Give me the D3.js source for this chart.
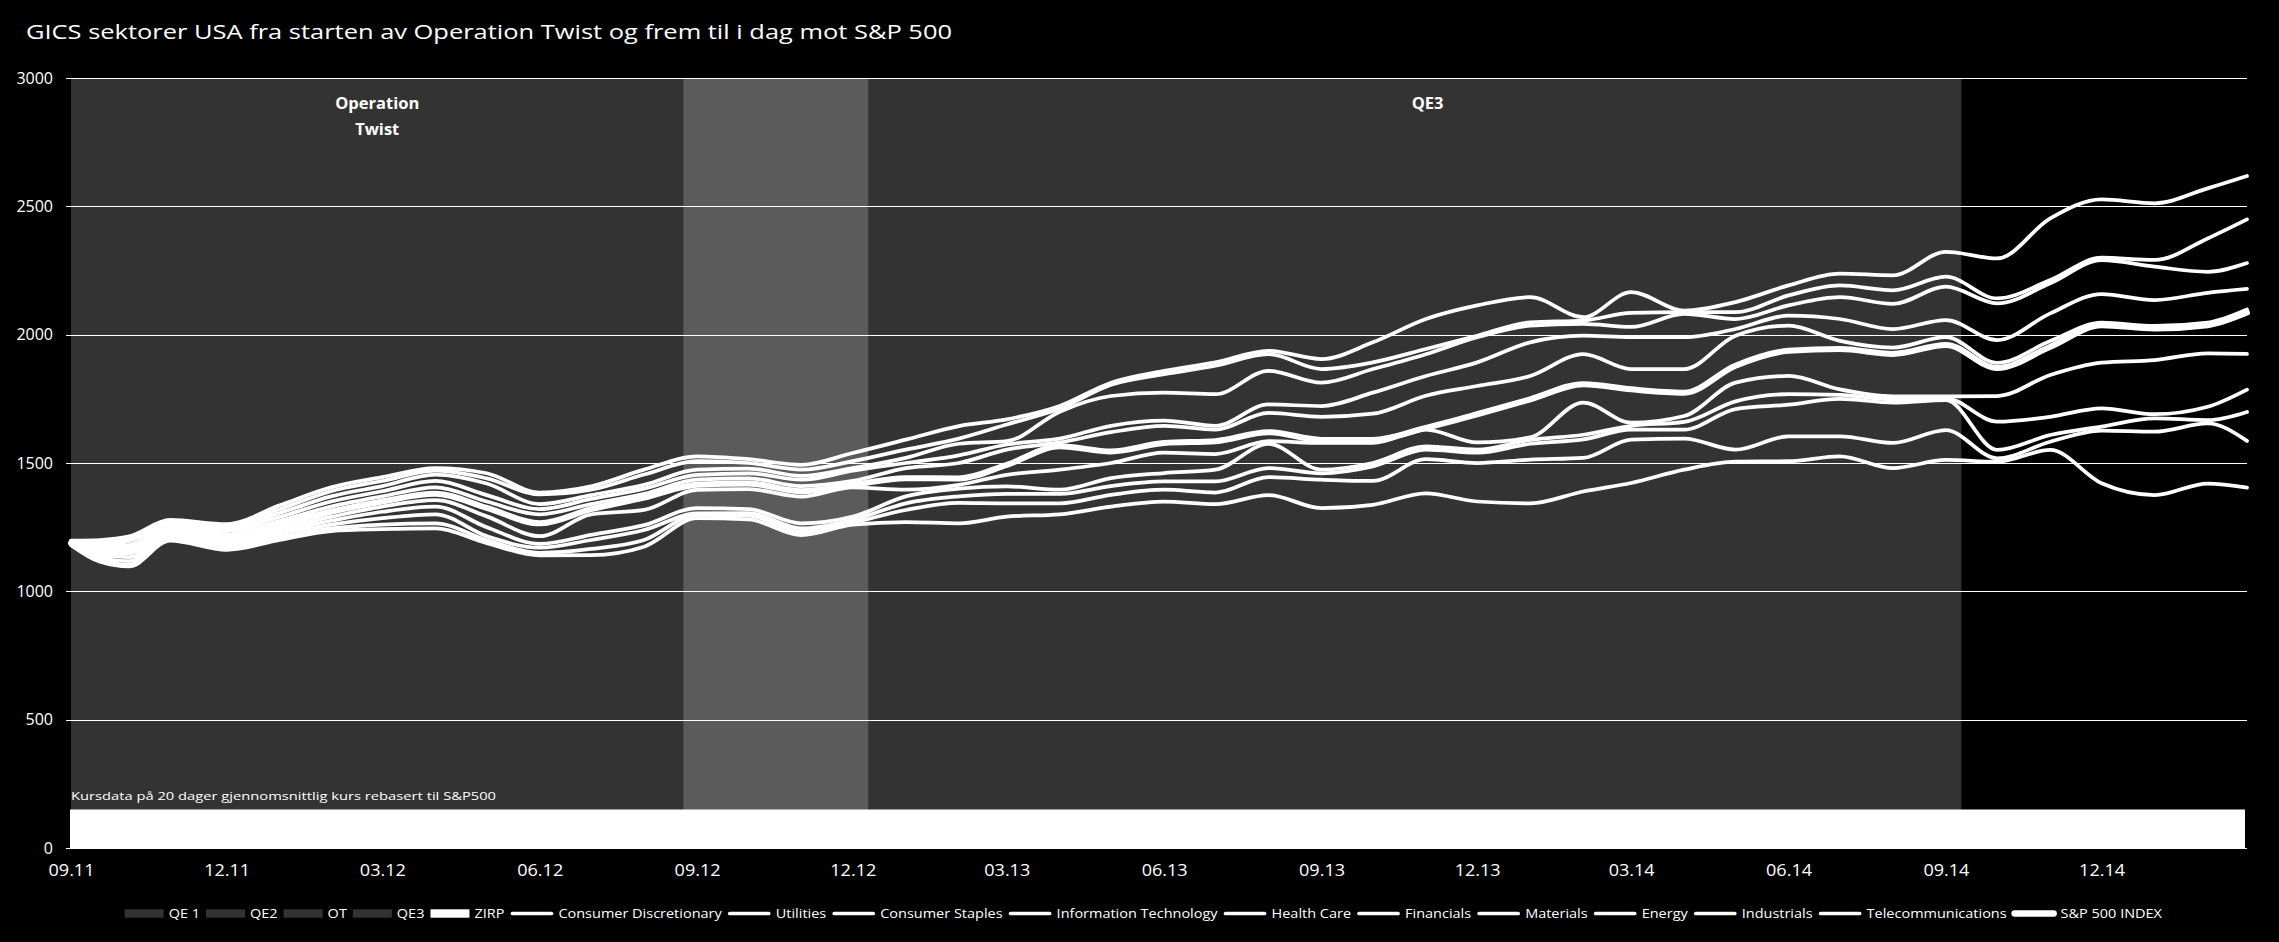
<!DOCTYPE html>
<html><head><meta charset="utf-8">
<script src="https://cdn.jsdelivr.net/npm/d3@7"></script>
<style>
html,body{margin:0;padding:0;background:#000;}
svg{display:block;}
text{font-family:"Open Sans","Noto Sans",sans-serif;fill:#fff;}
</style></head><body>
<svg id="chart" width="2279" height="942"></svg>
<script>
// ---------------- DATA ----------------
const titleText = "GICS sektorer USA fra starten av Operation Twist og frem til i dag mot S&P 500";
const noteText = "Kursdata på 20 dager gjennomsnittlig kurs rebasert til S&P500";

const dates = ["2011-09-01","2011-09-18","2011-10-05","2011-10-29","2011-12-01","2012-01-01","2012-01-31","2012-03-01","2012-04-01","2012-05-01","2012-06-01","2012-07-01","2012-08-01","2012-09-01","2012-10-01","2012-11-01","2012-12-01","2013-01-01","2013-02-01","2013-03-01","2013-04-01","2013-05-01","2013-06-01","2013-07-01","2013-08-01","2013-09-01","2013-10-01","2013-11-01","2013-12-01","2014-01-01","2014-02-01","2014-03-01","2014-04-01","2014-05-01","2014-06-01","2014-07-01","2014-08-01","2014-09-01","2014-10-01","2014-11-01","2014-12-01","2015-01-01","2015-02-01","2015-02-24"];

const healthCare            = [1198,1200,1214,1278,1262,1335,1405,1445,1480,1460,1385,1409,1474,1526,1515,1493,1539,1591,1644,1670,1722,1813,1859,1892,1937,1905,1970,2061,2114,2146,2068,2166,2094,2127,2192,2238,2231,2323,2297,2453,2527,2512,2570,2618];
const consumerDiscretionary = [1196,1190,1205,1270,1255,1320,1390,1430,1470,1440,1378,1396,1455,1507,1500,1474,1507,1552,1595,1650,1712,1805,1846,1879,1924,1866,1892,1944,1996,2048,2055,2085,2088,2088,2153,2192,2173,2226,2141,2213,2300,2291,2375,2449];
const informationTechnology = [1194,1180,1195,1262,1245,1305,1370,1410,1455,1420,1340,1375,1415,1474,1478,1450,1480,1520,1575,1585,1700,1761,1774,1768,1859,1813,1866,1924,1990,2035,2042,2030,2081,2061,2114,2146,2120,2187,2122,2200,2290,2265,2245,2279];
const financials            = [1192,1172,1180,1255,1235,1290,1350,1390,1430,1375,1320,1360,1400,1454,1460,1435,1470,1500,1530,1572,1595,1645,1665,1645,1728,1722,1774,1839,1892,1970,1996,1990,1990,2022,2074,2061,2022,2057,1979,2083,2158,2135,2163,2178];
const industrials           = [1190,1165,1170,1248,1222,1275,1330,1370,1405,1350,1300,1340,1380,1435,1440,1410,1430,1480,1500,1552,1580,1620,1645,1630,1695,1680,1692,1762,1800,1839,1924,1866,1866,1996,2035,1976,1950,1990,1890,1975,2047,2034,2047,2098];
const sp500Index            = [1189,1158,1160,1240,1210,1260,1310,1350,1380,1325,1265,1320,1365,1415,1420,1390,1415,1441,1440,1493,1565,1545,1578,1585,1620,1590,1590,1637,1690,1748,1807,1787,1774,1879,1937,1944,1925,1960,1870,1953,2037,2024,2037,2086];
const utilities             = [1187,1150,1148,1232,1200,1245,1290,1330,1355,1292,1215,1300,1317,1395,1398,1369,1405,1396,1415,1454,1474,1500,1540,1535,1585,1578,1578,1630,1580,1600,1735,1657,1683,1813,1839,1787,1760,1760,1761,1843,1891,1901,1927,1925];
const consumerStaples       = [1185,1140,1133,1222,1190,1235,1275,1310,1330,1250,1185,1220,1258,1324,1320,1265,1291,1370,1400,1409,1396,1441,1461,1474,1575,1474,1500,1565,1552,1590,1610,1645,1660,1740,1768,1765,1748,1752,1661,1680,1713,1690,1719,1786];
const materials             = [1183,1130,1118,1212,1180,1225,1260,1285,1300,1215,1170,1200,1239,1304,1305,1245,1278,1343,1370,1380,1380,1410,1428,1428,1480,1460,1487,1552,1540,1575,1592,1630,1630,1710,1727,1750,1735,1745,1551,1609,1642,1674,1667,1699];
const telecommunications    = [1181,1122,1104,1205,1172,1212,1245,1260,1265,1200,1150,1165,1200,1298,1295,1232,1268,1317,1345,1343,1343,1376,1396,1385,1445,1435,1430,1515,1500,1513,1520,1591,1595,1552,1604,1604,1578,1628,1518,1583,1626,1622,1654,1586];
const energy                = [1180,1115,1097,1198,1162,1200,1235,1242,1245,1188,1140,1141,1174,1285,1280,1219,1260,1270,1265,1291,1300,1330,1350,1340,1375,1324,1337,1382,1350,1343,1389,1422,1474,1505,1507,1526,1480,1512,1505,1551,1421,1375,1420,1404];

// program periods (shaded) and ZIRP
const bandNames  = ["OT", "QE3"];
const bandStarts = ["2011-09-01", "2012-08-24"];
const bandEnds   = ["2012-12-10", "2014-09-10"];
const bandLabels = [["Operation","Twist"], ["QE3"]];
const bandLabelDates = ["2012-02-27", "2013-11-02"];
const zirpLevel = 150;

const yTicks = [0, 500, 1000, 1500, 2000, 2500, 3000];
const xTickDates = ["2011-09-01","2011-12-01","2012-03-01","2012-06-01","2012-09-01","2012-12-01","2013-03-01","2013-06-01","2013-09-01","2013-12-01","2014-03-01","2014-06-01","2014-09-01","2014-12-01"];

const legendBandNames = ["QE 1", "QE2", "OT", "QE3", "ZIRP"];
const legendLineNames = ["Consumer Discretionary","Utilities","Consumer Staples","Information Technology","Health Care","Financials","Materials","Energy","Industrials","Telecommunications","S&P 500 INDEX"];

// ---------------- CHART ----------------
const parse = d3.timeParse("%Y-%m-%d");
const svg = d3.select("#chart");
const W = 2279, H = 942;
const L = 71, R = 2247, T = 78, B = 848;

svg.append("rect").attr("width", W).attr("height", H).attr("fill", "#000");

const x = d3.scaleTime().domain([parse(dates[0]), parse(dates[dates.length - 1])]).range([L, R]);
const y = d3.scaleLinear().domain([0, 3000]).range([B, T]);

// Title
svg.append("text").attr("x", 26).attr("y", 39).attr("font-size", 20)
  .attr("textLength", 926).attr("lengthAdjust", "spacingAndGlyphs").text(titleText);

// Bands (semi-transparent white over black → #333, overlap lighter)
svg.append("g").selectAll("rect").data(bandNames).join("rect")
  .attr("x", (d, i) => x(parse(bandStarts[i])))
  .attr("width", (d, i) => x(parse(bandEnds[i])) - x(parse(bandStarts[i])))
  .attr("y", y(3000)).attr("height", y(0) - y(3000))
  .attr("fill", "#fff").attr("fill-opacity", 0.2);

// ZIRP band
svg.append("rect")
  .attr("x", x.range()[0] - 1).attr("width", x.range()[1] - x.range()[0] - 1)
  .attr("y", y(zirpLevel)).attr("height", y(0) - y(zirpLevel))
  .attr("fill", "#fff");

// Y axis with gridlines
const yAxis = d3.axisLeft(y).tickValues(yTicks).tickSize(-(R - 66)).tickPadding(13).tickFormat(d3.format("d"));
const gy = svg.append("g").attr("transform", "translate(66,0)").call(yAxis);
gy.select(".domain").remove();
gy.selectAll(".tick line").attr("stroke", "#fff").attr("stroke-width", 1).attr("shape-rendering", "crispEdges");
gy.selectAll(".tick text").attr("font-size", 16).attr("fill", "#fff")
  .attr("font-family", '"Open Sans","Noto Sans",sans-serif');

// X axis labels
const xAxis = d3.axisBottom(x).tickValues(xTickDates.map(parse)).tickSize(0).tickPadding(17)
  .tickFormat(d3.timeFormat("%m.%y"));
const gx = svg.append("g").attr("transform", `translate(0,${B})`).call(xAxis);
gx.select(".domain").remove();
gx.selectAll(".tick text").attr("font-size", 16).attr("fill", "#fff")
  .attr("font-family", '"Open Sans","Noto Sans",sans-serif')
  .attr("textLength", 46).attr("lengthAdjust", "spacingAndGlyphs");

// Band labels
bandLabels.forEach((lines, i) => {
  lines.forEach((t, j) => {
    svg.append("text").attr("x", x(parse(bandLabelDates[i]))).attr("y", y(2880) + j * 26)
      .attr("text-anchor", "middle").attr("font-size", 16.5).attr("font-weight", "bold").text(t);
  });
});

// Note text
svg.append("text").attr("x", L).attr("y", 800).attr("font-size", 11)
  .attr("textLength", 425).attr("lengthAdjust", "spacingAndGlyphs").text(noteText);

// Lines
const seriesValues = {
  "Consumer Discretionary": consumerDiscretionary, "Utilities": utilities, "Consumer Staples": consumerStaples,
  "Information Technology": informationTechnology, "Health Care": healthCare, "Financials": financials,
  "Materials": materials, "Energy": energy, "Industrials": industrials,
  "Telecommunications": telecommunications, "S&P 500 INDEX": sp500Index
};
const parsedDates = dates.map(parse);
const line = d3.line().x((d, i) => x(parsedDates[i])).y(d => y(d)).curve(d3.curveMonotoneX);
const gl = svg.append("g");
legendLineNames.forEach(name => {
  gl.append("path").datum(seriesValues[name]).attr("d", line)
    .attr("fill", "none").attr("stroke", "#fff")
    .attr("stroke-width", name === "S&P 500 INDEX" ? 6 : 3.75)
    .attr("stroke-linejoin", "round").attr("stroke-linecap", "round");
});

// Legend
const legend = svg.append("g");
const items = legendBandNames.map((n, i) => ({ name: n, type: "rect", fill: i === 4 ? "#fff" : "#333" }))
  .concat(legendLineNames.map(n => ({ name: n, type: "line", w: n === "S&P 500 INDEX" ? 6.5 : 3.7 })));
const legY = 913.5, fs = 12.5, swR = 39, swL = 43, gapIn = 5, gapOut = 6;
const legStart = 124.7, legEnd = 2162;
const texts = items.map(it => legend.append("text").attr("font-size", fs).attr("y", legY + 4.5).text(it.name));
const nat = texts.map(t => t.node().getComputedTextLength());
const fixed = items.reduce((s, it) => s + (it.type === "rect" ? swR : swL) + gapIn, 0) + gapOut * (items.length - 1);
const sc = (legEnd - legStart - fixed) / d3.sum(nat);
let cx = legStart;
items.forEach((it, i) => {
  const sw = it.type === "rect" ? swR : swL;
  if (it.type === "rect") {
    legend.append("rect").attr("x", cx).attr("y", legY - 4.2).attr("width", sw).attr("height", 8.4).attr("fill", it.fill);
  } else {
    legend.append("line").attr("x1", cx + 2).attr("x2", cx + sw - 2).attr("y1", legY).attr("y2", legY)
      .attr("stroke", "#fff").attr("stroke-width", it.w).attr("stroke-linecap", "round");
  }
  cx += sw + gapIn;
  const tw = nat[i] * sc;
  texts[i].attr("x", cx).attr("textLength", tw).attr("lengthAdjust", "spacingAndGlyphs");
  cx += tw + gapOut;
});
</script>
</body></html>
